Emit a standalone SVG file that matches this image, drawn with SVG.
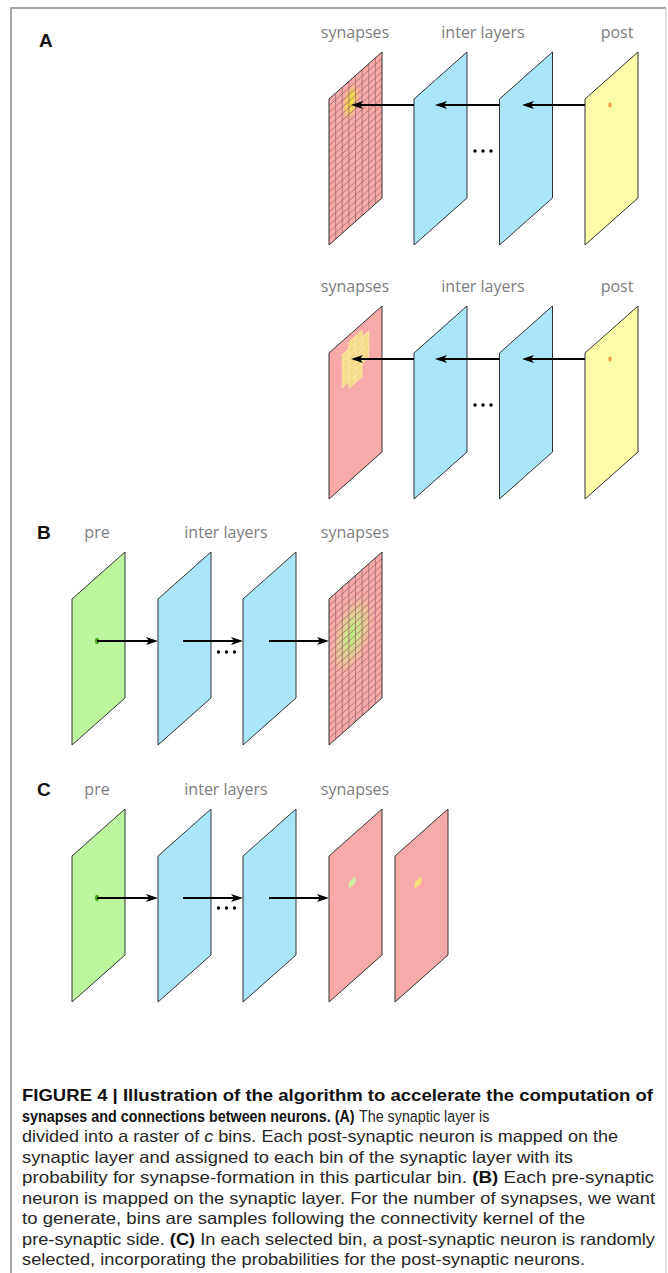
<svg xmlns="http://www.w3.org/2000/svg" xmlns:xlink="http://www.w3.org/1999/xlink" width="668" height="1273" viewBox="0 0 668 1273">
<style>
.bg{fill:#ffffff}
.pl{stroke:#333;stroke-width:1;vector-effect:non-scaling-stroke}
.ol{fill:none;stroke:#333;stroke-width:1;vector-effect:non-scaling-stroke}
.red{fill:#f8aaa8}
.blue{fill:#aae5f9}
.yel{fill:#fdfca8}
.grn{fill:#bbf59e}
.grid{fill:none;stroke:#a46a6e;stroke-width:0.8;vector-effect:non-scaling-stroke}
.cell{fill:#f6dc86;stroke:#fbeab0;stroke-width:0.8;vector-effect:non-scaling-stroke}
.lbl{font-family:"Open Sans","Noto Sans",sans-serif;font-size:16px;fill:#7d7d7d;text-anchor:middle}
.pan{font-family:"Liberation Sans",Arial,sans-serif;font-size:19px;font-weight:bold;fill:#111}
.arr{fill:none;stroke:#000;stroke-width:2;marker-end:url(#ah)}
.cap{font-family:"Liberation Sans",Arial,sans-serif;font-size:16.5px;fill:#262626}
.b{font-weight:bold;fill:#111}
</style>
<defs>
<marker id="ah" markerUnits="userSpaceOnUse" viewBox="0 0 12 8" markerWidth="12" markerHeight="8" refX="9" refY="4" orient="auto">
<path d="M0,0 L12,4 L0,8 L3,4 Z" fill="#000"/>
</marker>
<path id="gridp" class="grid" d="M1,0V22M2,0V22M3,0V22M4,0V22M5,0V22M6,0V22M7,0V22M0,1H8M0,2H8M0,3H8M0,4H8M0,5H8M0,6H8M0,7H8M0,8H8M0,9H8M0,10H8M0,11H8M0,12H8M0,13H8M0,14H8M0,15H8M0,16H8M0,17H8M0,18H8M0,19H8M0,20H8M0,21H8"/>
<radialGradient id="hlA">
<stop offset="0" stop-color="#efe236" stop-opacity="1"/>
<stop offset="0.5" stop-color="#f1dc4e" stop-opacity="0.8"/>
<stop offset="1" stop-color="#f8aaa8" stop-opacity="0"/>
</radialGradient>
<radialGradient id="hlB">
<stop offset="0" stop-color="#b2ef7c" stop-opacity="1"/>
<stop offset="0.3" stop-color="#c8eb88" stop-opacity="0.85"/>
<stop offset="0.65" stop-color="#e4d690" stop-opacity="0.5"/>
<stop offset="1" stop-color="#f8aaa8" stop-opacity="0"/>
</radialGradient>
</defs>
<rect class="bg" x="0" y="0" width="668" height="1273"/>
<g id="frame">
<path d="M11,1273 V8 H666" fill="none" stroke="#8a8a8a" stroke-width="1.5"/>
<path d="M666,8 V1273" fill="none" stroke="#d0d0d0" stroke-width="1.2"/>
</g>

<g id="panelA1">
<text class="pan" x="39" y="47">A</text>
<text class="lbl" x="355" y="38">synapses</text>
<text class="lbl" x="483" y="38">inter layers</text>
<text class="lbl" x="617" y="38">post</text>
<g id="A1-syn" transform="matrix(6.625,-5.875,0,6.63636,329,99)">
<rect class="red" width="8" height="22"/>
<ellipse cx="3.3" cy="3.3" rx="1.5" ry="2.9" fill="url(#hlA)"/>
<use xlink:href="#gridp"/>
<rect class="ol" width="8" height="22"/>
</g>
<g id="A1-inter1" transform="matrix(6.625,-5.875,0,6.63636,414,99)"><rect class="blue pl" width="8" height="22"/></g>
<g id="A1-inter2" transform="matrix(6.625,-5.875,0,6.63636,499.5,99)"><rect class="blue pl" width="8" height="22"/></g>
<g id="A1-post">
<rect class="yel pl" width="8" height="22" transform="matrix(6.625,-5.875,0,6.63636,585,99)"/>
<ellipse cx="610" cy="105" rx="1.6" ry="2.8" fill="#f2a040"/>
</g>
<g id="A1-dots" fill="#000"><circle cx="475" cy="151" r="1.7"/><circle cx="483" cy="151" r="1.7"/><circle cx="491" cy="151" r="1.7"/></g>
</g>

<g id="panelA2">
<text class="lbl" x="355" y="292">synapses</text>
<text class="lbl" x="483" y="292">inter layers</text>
<text class="lbl" x="617" y="292">post</text>
<g id="A2-syn" transform="matrix(6.625,-5.875,0,6.63636,329,353)">
<rect class="red pl" width="8" height="22"/>
<rect class="cell" x="2" y="2" width="1" height="1"/><rect class="cell" x="2" y="3" width="1" height="1"/><rect class="cell" x="2" y="4" width="1" height="1"/><rect class="cell" x="2" y="5" width="1" height="1"/><rect class="cell" x="2" y="6" width="1" height="1"/>
<rect class="cell" x="3" y="1" width="1" height="1"/><rect class="cell" x="3" y="2" width="1" height="1"/><rect class="cell" x="3" y="3" width="1" height="1"/><rect class="cell" x="3" y="4" width="1" height="1"/><rect class="cell" x="3" y="5" width="1" height="1"/><rect class="cell" x="3" y="6" width="1" height="1"/><rect class="cell" x="3" y="7" width="1" height="1"/>
<rect class="cell" x="4" y="1" width="1" height="1"/><rect class="cell" x="4" y="2" width="1" height="1"/><rect class="cell" x="4" y="3" width="1" height="1"/><rect class="cell" x="4" y="4" width="1" height="1"/><rect class="cell" x="4" y="5" width="1" height="1"/><rect class="cell" x="4" y="6" width="1" height="1"/><rect class="cell" x="4" y="7" width="1" height="1"/>
<rect class="cell" x="5" y="2" width="1" height="1"/><rect class="cell" x="5" y="3" width="1" height="1"/><rect class="cell" x="5" y="4" width="1" height="1"/><rect class="cell" x="5" y="5" width="1" height="1"/>
</g>
<g id="A2-inter1" transform="matrix(6.625,-5.875,0,6.63636,414,353)"><rect class="blue pl" width="8" height="22"/></g>
<g id="A2-inter2" transform="matrix(6.625,-5.875,0,6.63636,499.5,353)"><rect class="blue pl" width="8" height="22"/></g>
<g id="A2-post">
<rect class="yel pl" width="8" height="22" transform="matrix(6.625,-5.875,0,6.63636,585,353)"/>
<ellipse cx="610" cy="359" rx="1.6" ry="2.8" fill="#f2a040"/>
</g>
<g id="A2-dots" fill="#000"><circle cx="475" cy="405" r="1.7"/><circle cx="483" cy="405" r="1.7"/><circle cx="491" cy="405" r="1.7"/></g>
</g>

<g id="panelB">
<text class="pan" x="37" y="539">B</text>
<text class="lbl" x="97" y="538">pre</text>
<text class="lbl" x="226" y="538">inter layers</text>
<text class="lbl" x="355" y="538">synapses</text>
<g id="B-pre">
<rect class="grn pl" width="8" height="22" transform="matrix(6.625,-5.875,0,6.63636,72,599)"/>
<ellipse cx="97" cy="641" rx="2" ry="3.3" fill="#4aae1c"/>
</g>
<g id="B-inter1" transform="matrix(6.625,-5.875,0,6.63636,158,599)"><rect class="blue pl" width="8" height="22"/></g>
<g id="B-inter2" transform="matrix(6.625,-5.875,0,6.63636,243,599)"><rect class="blue pl" width="8" height="22"/></g>
<g id="B-syn" transform="matrix(6.625,-5.875,0,6.63636,329,599)">
<rect class="red" width="8" height="22"/>
<ellipse cx="3.5" cy="8.4" rx="3.7" ry="6.2" fill="url(#hlB)"/>
<use xlink:href="#gridp"/>
<rect class="ol" width="8" height="22"/>
</g>
<g id="B-dots" fill="#000"><circle cx="218.5" cy="652" r="1.7"/><circle cx="226.5" cy="652" r="1.7"/><circle cx="234.5" cy="652" r="1.7"/></g>
</g>

<g id="panelC">
<text class="pan" x="37" y="796">C</text>
<text class="lbl" x="97" y="795">pre</text>
<text class="lbl" x="226" y="795">inter layers</text>
<text class="lbl" x="355" y="795">synapses</text>
<g id="C-pre">
<rect class="grn pl" width="8" height="22" transform="matrix(6.625,-5.875,0,6.63636,72,856)"/>
<ellipse cx="97" cy="898" rx="2" ry="3.3" fill="#4aae1c"/>
</g>
<g id="C-inter1" transform="matrix(6.625,-5.875,0,6.63636,158,856)"><rect class="blue pl" width="8" height="22"/></g>
<g id="C-inter2" transform="matrix(6.625,-5.875,0,6.63636,243,856)"><rect class="blue pl" width="8" height="22"/></g>
<g id="C-syn1" transform="matrix(6.625,-5.875,0,6.63636,329,856)">
<rect class="red pl" width="8" height="22"/>
<rect x="3" y="6.6" width="1" height="1" fill="#cdf2a4"/>
</g>
<g id="C-syn2" transform="matrix(6.625,-5.875,0,6.63636,395,856)">
<rect class="red pl" width="8" height="22"/>
<rect x="3" y="6.6" width="1" height="1" fill="#f8e07a"/>
</g>
<g id="C-dots" fill="#000"><circle cx="218.5" cy="908" r="1.7"/><circle cx="226.5" cy="908" r="1.7"/><circle cx="234.5" cy="908" r="1.7"/></g>
</g>

<g id="connectors">
<line class="arr" x1="585" y1="105" x2="525" y2="105"/>
<line class="arr" x1="499.5" y1="105" x2="438" y2="105"/>
<line class="arr" x1="414" y1="105" x2="354" y2="105"/>
<line class="arr" x1="585" y1="359" x2="525" y2="359"/>
<line class="arr" x1="499.5" y1="359" x2="438" y2="359"/>
<line class="arr" x1="414" y1="359" x2="354" y2="359"/>
<line class="arr" x1="97" y1="641" x2="155" y2="641"/>
<line class="arr" x1="183" y1="641" x2="240" y2="641"/>
<line class="arr" x1="269" y1="641" x2="326" y2="641"/>
<line class="arr" x1="97" y1="898" x2="155" y2="898"/>
<line class="arr" x1="183" y1="898" x2="240" y2="898"/>
<line class="arr" x1="269" y1="898" x2="326" y2="898"/>
</g>

<g id="caption" class="cap">
<text x="22" y="1101" textLength="631" lengthAdjust="spacingAndGlyphs"><tspan class="b">FIGURE 4 | Illustration of the algorithm to accelerate the computation of</tspan></text>
<text class="b" transform="translate(22,1121.5) scale(0.869,1)">synapses and connections between neurons. (A)</text>
<text transform="translate(359,1121.5) scale(0.867,1)">The synaptic layer is</text>
<text x="22" y="1142" textLength="596" lengthAdjust="spacingAndGlyphs">divided into a raster of <tspan font-style="italic">c</tspan> bins. Each post-synaptic neuron is mapped on the</text>
<text x="22" y="1162.5" textLength="551" lengthAdjust="spacingAndGlyphs">synaptic layer and assigned to each bin of the synaptic layer with its</text>
<text x="22" y="1183" textLength="632" lengthAdjust="spacingAndGlyphs">probability for synapse-formation in this particular bin. <tspan class="b">(B)</tspan> Each pre-synaptic</text>
<text x="22" y="1203.5" textLength="633" lengthAdjust="spacingAndGlyphs">neuron is mapped on the synaptic layer. For the number of synapses, we want</text>
<text x="22" y="1224" textLength="563" lengthAdjust="spacingAndGlyphs">to generate, bins are samples following the connectivity kernel of the</text>
<text x="22" y="1244.5" textLength="633" lengthAdjust="spacingAndGlyphs">pre-synaptic side. <tspan class="b">(C)</tspan> In each selected bin, a post-synaptic neuron is randomly</text>
<text x="22" y="1265" textLength="563" lengthAdjust="spacingAndGlyphs">selected, incorporating the probabilities for the post-synaptic neurons.</text>
</g>
</svg>
